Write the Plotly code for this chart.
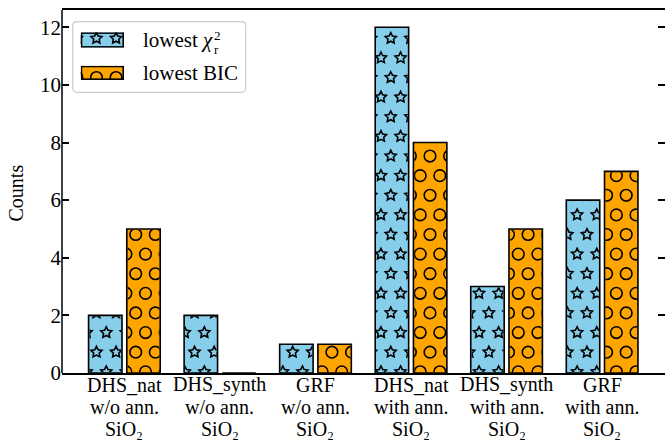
import base64
import math
import plotly.graph_objects as go

# ---------------- data ----------------
categories = [
    "DHS_nat\nw/o ann.\nSiO₂",
    "DHS_synth\nw/o ann.\nSiO₂",
    "GRF\nw/o ann.\nSiO₂",
    "DHS_nat\nwith ann.\nSiO₂",
    "DHS_synth\nwith ann.\nSiO₂",
    "GRF\nwith ann.\nSiO₂",
]
lowest_chi2 = [2, 2, 1, 12, 3, 6]
lowest_bic = [5, 0, 1, 8, 5, 7]
series_names = ["lowest χ²ᵣ", "lowest BIC"]
y_ticks = [0, 2, 4, 6, 8, 10, 12]
y_label = "Counts"

# ---------------- style / layout ----------------
W_FIG, H_FIG = 665, 441
M_L, M_R, M_T, M_B = 62, 0, 10, 68
X_RANGE = [-0.653, 5.658]
Y_RANGE = [0, 12.6]
BAR_W = 0.35
OFFSETS = [-0.375, 0.025]
COLORS = ["#87CEEB", "#FFA500"]
HATCHES = ["star", "circle"]
EDGE = 1.6
HATCH_LW = 1.6
HATCH_PITCH = 19.62
HATCH_ORIGIN = (430.0, 156.0)
FONT = "Liberation Serif, Times New Roman, Times, serif"
FS = 21
FS_CAT = 20

PW = W_FIG - M_L - M_R
PH = H_FIG - M_T - M_B
SX = PW / (X_RANGE[1] - X_RANGE[0])
SY = PH / (Y_RANGE[1] - Y_RANGE[0])


def px_x(x):
    return M_L + (x - X_RANGE[0]) * SX


def px_y(y):
    return M_T + (Y_RANGE[1] - y) * SY


def paper_x(px):
    return (px - M_L) / PW


def paper_y(py):
    return (M_T + PH - py) / PH


def star_pts(cx, cy, R):
    pts = []
    for k in range(10):
        a = -math.pi / 2 + k * math.pi / 5
        r = R if k % 2 == 0 else R * 0.5
        pts.append(f"{cx + r * math.cos(a):.2f},{cy + r * math.sin(a):.2f}")
    return " ".join(pts)


def hatch_svg(kind, left, top, w, h, fill=None, border=False):
    p = HATCH_PITCH
    ox, oy = HATCH_ORIGIN
    R = 5.8
    els = []
    if fill:
        els.append(f'<rect x="0" y="0" width="{w:.2f}" height="{h:.2f}" fill="{fill}"/>')
    j0 = math.floor((top - R - oy) / p) - 1
    j1 = math.ceil((top + h + R - oy) / p) + 1
    for j in range(j0, j1 + 1):
        cy = oy + j * p
        xo = ox + (j % 2) * p / 2
        i0 = math.floor((left - R - xo) / p) - 1
        i1 = math.ceil((left + w + R - xo) / p) + 1
        for i in range(i0, i1 + 1):
            cx = xo + i * p
            lx, ly = cx - left, cy - top
            if lx < -R - 2 or lx > w + R + 2 or ly < -R - 2 or ly > h + R + 2:
                continue
            if kind == "star":
                els.append(f'<polygon points="{star_pts(lx, ly, R)}" fill="none" stroke="black" '
                           f'stroke-width="{HATCH_LW}" stroke-linejoin="miter"/>')
            else:
                els.append(f'<circle cx="{lx:.2f}" cy="{ly:.2f}" r="{R}" fill="none" stroke="black" '
                           f'stroke-width="{HATCH_LW}"/>')
    if border:
        els.append(f'<rect x="{EDGE/2}" y="{EDGE/2}" width="{w-EDGE:.2f}" height="{h-EDGE:.2f}" '
                   f'fill="none" stroke="black" stroke-width="{EDGE}"/>')
    svg = (f'<svg xmlns="http://www.w3.org/2000/svg" width="{w:.2f}" height="{h:.2f}" '
           f'viewBox="0 0 {w:.2f} {h:.2f}">' + "".join(els) + "</svg>")
    return "data:image/svg+xml;base64," + base64.b64encode(svg.encode()).decode()


positions = list(range(len(categories)))
series = [lowest_chi2, lowest_bic]

fig = go.Figure()
images = []
for s, vals in enumerate(series):
    fig.add_trace(go.Bar(
        x=positions, y=vals, width=BAR_W, offset=OFFSETS[s],
        name=series_names[s], showlegend=False,
        marker=dict(color=COLORS[s], line=dict(color="black", width=EDGE)),
    ))
    # hatch overlay, clipped to each bar interior
    din_x = (EDGE / 2) / SX
    din_y = (EDGE / 2) / SY
    for xi, v in zip(positions, vals):
        if v <= 0:
            continue
        x0 = xi + OFFSETS[s]
        left = px_x(x0) + EDGE / 2
        top = px_y(v) + EDGE / 2
        w = BAR_W * SX - EDGE
        h = v * SY - EDGE
        images.append(dict(
            source=hatch_svg(HATCHES[s], left, top, w, h),
            xref="x", yref="y", x=x0 + din_x, y=v - din_y,
            sizex=BAR_W - 2 * din_x, sizey=v - 2 * din_y,
            xanchor="left", yanchor="top", sizing="stretch", layer="above",
        ))

# ---------------- manual legend ----------------
LEG = dict(x0=72.7, y0=21.7, x1=245.7, y1=92.3, r=4.5)
lx0, lx1 = paper_x(LEG["x0"]), paper_x(LEG["x1"])
ly0, ly1 = paper_y(LEG["y1"]), paper_y(LEG["y0"])
rx, ry = LEG["r"] / PW, LEG["r"] / PH
legend_path = (f"M{lx0+rx},{ly1} L{lx1-rx},{ly1} Q{lx1},{ly1} {lx1},{ly1-ry} "
               f"L{lx1},{ly0+ry} Q{lx1},{ly0} {lx1-rx},{ly0} L{lx0+rx},{ly0} "
               f"Q{lx0},{ly0} {lx0},{ly0+ry} L{lx0},{ly1-ry} Q{lx0},{ly1} {lx0+rx},{ly1} Z")

shapes = [
    dict(type="path", path=legend_path, xref="paper", yref="paper",
         fillcolor="rgba(255,255,255,0.8)", line=dict(color="#cccccc", width=1.2), layer="below"),
    dict(type="line", xref="paper", yref="paper", x0=0, x1=0, y0=0, y1=1,
         line=dict(color="black", width=1.5), layer="above"),
]

patch_rows = [(32.3, 47.7), (65.7, 80.0)]
patch_x = (80.7, 124.0)
for s in range(2):
    t, b = patch_rows[s]
    w = patch_x[1] - patch_x[0]
    h = b - t
    images.append(dict(
        source=hatch_svg(HATCHES[s], patch_x[0], t, w, h, fill=COLORS[s], border=True),
        xref="paper", yref="paper", x=paper_x(patch_x[0]), y=paper_y(t),
        sizex=w / PW, sizey=h / PH, xanchor="left", yanchor="top",
        sizing="stretch", layer="above",
    ))

annotations = []
txt_font = dict(family=FONT, size=FS, color="black")
small_font = dict(family=FONT, size=13, color="black")
annotations.append(dict(text="lowest <i>χ</i>", xref="paper", yref="paper",
                        x=paper_x(141), y=paper_y(39.6), xanchor="left", yanchor="middle",
                        showarrow=False, font=txt_font))
annotations.append(dict(text="2", xref="paper", yref="paper",
                        x=paper_x(212.0), y=paper_y(35.2), xanchor="left", yanchor="middle",
                        showarrow=False, font=small_font))
annotations.append(dict(text="r", xref="paper", yref="paper",
                        x=paper_x(212.0), y=paper_y(49.8), xanchor="left", yanchor="middle",
                        showarrow=False, font=small_font))
annotations.append(dict(text=series_names[1], xref="paper", yref="paper",
                        x=paper_x(141), y=paper_y(72.9), xanchor="left", yanchor="middle",
                        showarrow=False, font=txt_font))

# category labels (three lines each)
line_centers = [385.0, 407.2, 429.4]
for xi, cat in zip(positions, categories):
    for k, line in enumerate(cat.split("\n")):
        annotations.append(dict(text=line, xref="x", yref="paper", x=xi,
                                y=paper_y(line_centers[k]), xanchor="center", yanchor="middle",
                                borderpad=0, showarrow=False,
                                font=dict(family=FONT, size=FS_CAT, color="black")))

annotations.append(dict(text=y_label, xref="paper", yref="paper", x=paper_x(15.5),
                        y=paper_y(193), xanchor="center", yanchor="middle", textangle=-90,
                        showarrow=False, font=dict(family=FONT, size=20, color="black")))

fig.update_layout(
    width=W_FIG, height=H_FIG,
    margin=dict(l=M_L, r=M_R, t=M_T, b=M_B, pad=0),
    paper_bgcolor="white", plot_bgcolor="rgba(0,0,0,0)",
    barmode="overlay", showlegend=False,
    xaxis=dict(range=X_RANGE, showgrid=False, zeroline=False, showline=True,
               linecolor="black", linewidth=1.5, mirror=True, ticks="",
               showticklabels=False, fixedrange=True),
    yaxis=dict(range=Y_RANGE, showgrid=False, zeroline=False, showline=False,
               mirror="ticks", ticks="inside", ticklen=7, tickwidth=1.5,
               tickcolor="black", tickvals=y_ticks, ticktext=[str(t) for t in y_ticks],
               tickfont=dict(family=FONT, size=FS, color="black"), fixedrange=True),
    shapes=shapes, images=images, annotations=annotations,
)

fig.write_html("out.html")
